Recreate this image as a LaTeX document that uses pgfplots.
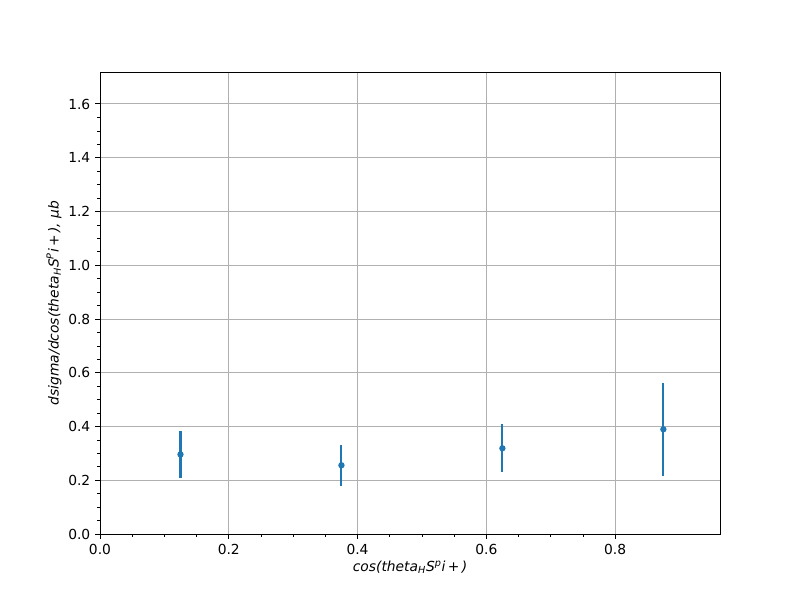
\documentclass[border=0pt]{standalone}
\usepackage{pgfplots}
\pgfplotsset{compat=1.18}
\usepackage{fontspec}
\setmainfont{DejaVu Sans}
\definecolor{mplblue}{HTML}{1F77B4}
\definecolor{gridgray}{HTML}{B0B0B0}
\begin{document}
\begin{tikzpicture}
\useasboundingbox (-1in,-0.66in) rectangle (7in,5.34in);
\begin{axis}[
  at={(0,0)}, anchor=south west,
  scale only axis, width=6.2in, height=4.62in,
  xmin=0, xmax=0.963, ymin=0, ymax=1.719,
  xtick={0,0.2,0.4,0.6,0.8}, ytick={0,0.2,0.4,0.6,0.8,1.0,1.2,1.4,1.6},
  minor x tick num=3, minor y tick num=3,
  tick pos=left, tick align=outside,
  major tick length=3.5pt, minor tick length=2pt,
  every tick/.style={black, line width=0.7pt},
  minor tick style={black, line width=0.5pt},
  xmajorgrids, ymajorgrids,
  major grid style={gridgray, line width=0.7pt},
  axis line style={black, line width=0.7pt},
  tick label style={font=\fontsize{10}{12}\selectfont},
  /pgf/number format/assume math mode=true,
  xticklabel style={/pgf/number format/.cd, fixed, fixed zerofill, precision=1},
  yticklabel style={/pgf/number format/.cd, fixed, fixed zerofill, precision=1},
  xlabel={\itshape cos(theta\textsubscript{H}S\textsuperscript{p}i\,+\,)},
  ylabel={\itshape dsigma/dcos(theta\textsubscript{H}S\textsuperscript{P}i\,+\,), μb},
  label style={font=\fontsize{10}{12}\selectfont},
  xlabel style={yshift=2pt},
  ylabel style={yshift=-2pt},
]
\addplot[mplblue, only marks, mark=*, mark size=1.5pt, line width=1.5pt,
  error bars/.cd, y dir=both, y explicit,
  error bar style={mplblue, line width=1.5pt}, error mark=none]
  coordinates {
    (0.125,0.296) +- (0,0.0864)
    (0.375,0.2557) +- (0,0.0758)
    (0.625,0.3189) +- (0,0.0886)
    (0.875,0.3896) +- (0,0.1724)
  };
\end{axis}
\end{tikzpicture}
\end{document}
